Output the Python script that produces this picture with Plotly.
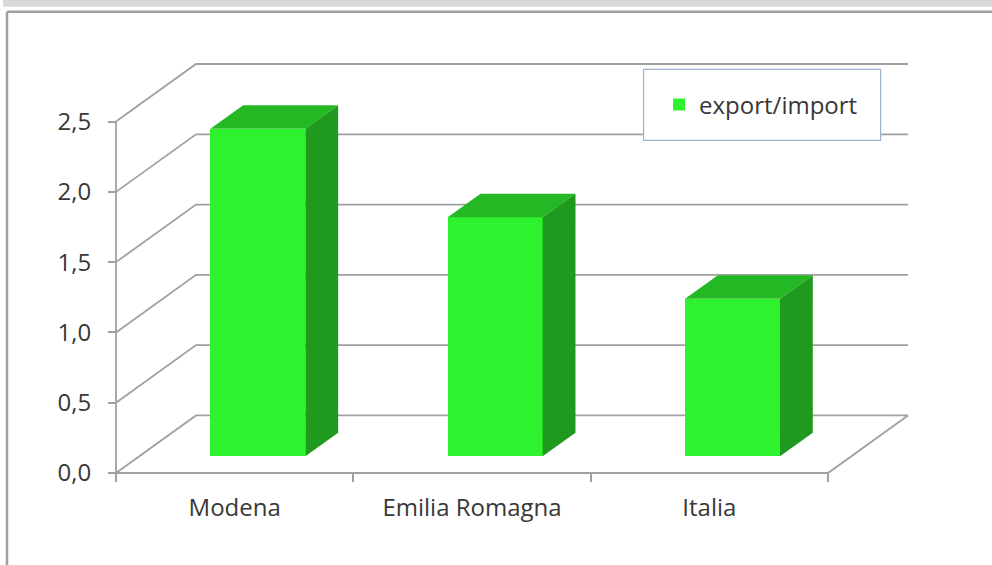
import plotly.graph_objects as go

# Data
categories = ["Modena", "Emilia Romagna", "Italia"]
values = [2.33, 1.70, 1.12]
series_name = "export/import"
y_ticks = [0.0, 0.5, 1.0, 1.5, 2.0, 2.5]

# Canvas and pseudo-3D projection settings
W, H = 992, 565
PX_CAT = 237.3          # pixels per category on the front plane
PX_VAL = 140.4          # pixels per value unit
ORIGIN = (116, 472.7)   # pixel position of the front-left floor corner
DEPTH_PX = (80, 57.5)   # pixel shift from the front plane to the back wall
PAD = 8

DX = DEPTH_PX[0] / PX_CAT
DY = DEPTH_PX[1] / PX_VAL
D0, D1 = 0.29, 0.70     # depth of the bar front and back faces
BW = 0.40               # bar width in category units

FRONT = "#2ef22e"
TOP = "#24b824"
SIDE = "#1f9a1f"
GRID = "#a0a0a0"
TEXT = "#383838"
FONT = "Open Sans"
FONT_SIZE = 24

n = len(categories)
xmin, xmax = -PAD / PX_CAT, n + DX + PAD / PX_CAT
ymin, ymax = -PAD / PX_VAL, y_ticks[-1] + DY + PAD / PX_VAL
plot_w = (xmax - xmin) * PX_CAT
plot_h = (ymax - ymin) * PX_VAL
ml = ORIGIN[0] - PAD
mb = H - ORIGIN[1] - PAD
mr = W - ml - plot_w
mt = H - mb - plot_h


def pxx(p):
    return (p - ml) / plot_w


def pxy(p):
    return (H - mb - p) / plot_h


fig = go.Figure()

# Walls, floor and gridlines of the 3D frame
gx, gy = [], []
for v in y_ticks:
    gx += [0, DX, n + DX, None]
    gy += [v, v + DY, v + DY, None]
gx += [0, 0, None, 0, n, n + DX, None]
gy += [0, y_ticks[-1], None, 0, 0, DY, None]
fig.add_trace(go.Scatter(x=gx, y=gy, mode="lines", line=dict(color=GRID, width=1.8),
                         hoverinfo="skip", showlegend=False, zorder=0))

centers = [i + 0.5 for i in range(n)]

# Front faces of the columns
fig.add_trace(go.Bar(x=[c + D0 * DX for c in centers], y=values, base=D0 * DY,
                     width=BW, name=series_name, marker=dict(color=FRONT, line=dict(width=0)),
                     zorder=1))

# Top and side faces
for c, v in zip(centers, values):
    xl, xr = c - BW / 2, c + BW / 2
    fig.add_trace(go.Scatter(
        x=[xl + D0 * DX, xr + D0 * DX, xr + D1 * DX, xl + D1 * DX, xl + D0 * DX],
        y=[v + D0 * DY, v + D0 * DY, v + D1 * DY, v + D1 * DY, v + D0 * DY],
        fill="toself", fillcolor=TOP, mode="lines", line=dict(width=0, color=TOP),
        hoverinfo="skip", showlegend=False, zorder=2))
    fig.add_trace(go.Scatter(
        x=[xr + D0 * DX, xr + D1 * DX, xr + D1 * DX, xr + D0 * DX, xr + D0 * DX],
        y=[D0 * DY, D1 * DY, v + D1 * DY, v + D0 * DY, D0 * DY],
        fill="toself", fillcolor=SIDE, mode="lines", line=dict(width=0, color=SIDE),
        hoverinfo="skip", showlegend=False, zorder=2))

shapes = [
    # grey band and window frame
    dict(type="rect", xref="paper", yref="paper", x0=pxx(3), x1=pxx(W), y0=pxy(0), y1=pxy(7),
         fillcolor="#d9d9d9", line=dict(width=0), layer="above"),
    dict(type="line", xref="paper", yref="paper", x0=pxx(7), x1=pxx(W), y0=pxy(12), y1=pxy(12),
         line=dict(color="#a0a0a0", width=2.5), layer="above"),
    dict(type="line", xref="paper", yref="paper", x0=pxx(7), x1=pxx(7), y0=pxy(12), y1=pxy(H),
         line=dict(color="#a0a0a0", width=2.5), layer="above"),
    # legend box
    dict(type="rect", xref="paper", yref="paper", x0=pxx(643.5), x1=pxx(880.5),
         y0=pxy(69.5), y1=pxy(140.5), fillcolor="white",
         line=dict(color="#9fb2cf", width=1.2), layer="above"),
]

fig.update_layout(
    width=W, height=H,
    margin=dict(l=ml, r=mr, t=mt, b=mb, pad=0),
    paper_bgcolor="white", plot_bgcolor="white",
    separators=",.",
    font=dict(family=FONT, size=FONT_SIZE, color=TEXT),
    showlegend=True,
    legend=dict(x=pxx(659), y=pxy(105), xanchor="left", yanchor="middle",
                bgcolor="rgba(0,0,0,0)", borderwidth=0,
                font=dict(size=FONT_SIZE, color=TEXT)),
    shapes=shapes,
    bargap=0,
)

fig.update_xaxes(
    range=[xmin, xmax], showgrid=False, zeroline=False, showline=False,
    tickmode="array", tickvals=centers, ticktext=categories, ticks="",
    ticklabelstandoff=18, anchor="free", position=pxy(ORIGIN[1]),
    minor=dict(tickmode="array", tickvals=list(range(n + 1)), ticks="outside",
               ticklen=8, tickwidth=1.8, tickcolor=GRID, showgrid=False),
    fixedrange=True,
)
fig.update_yaxes(
    range=[ymin, ymax], showgrid=False, zeroline=False, showline=False,
    tickmode="array", tickvals=y_ticks, tickformat=".1f", ticks="outside",
    ticklen=8, tickwidth=1.8, tickcolor=GRID, ticklabelstandoff=12,
    anchor="free", position=pxx(ORIGIN[0]), fixedrange=True,
)

fig.write_html("out.html")
